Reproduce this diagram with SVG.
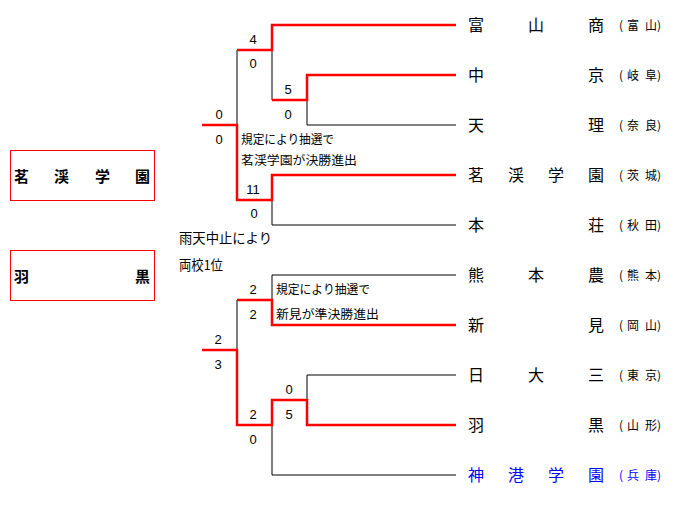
<svg xmlns="http://www.w3.org/2000/svg" width="683" height="511" viewBox="0 0 683 511">
<style>
.bk{fill:none;stroke:#000;stroke-width:1}
.rd{fill:none;stroke:#ff0000;stroke-width:2.5}
.team{font-family:"Noto Sans CJK JP","Noto Sans CJK SC",sans-serif;font-size:16px;fill:#000}
.pref{font-family:"Noto Sans CJK JP","Noto Sans CJK SC",sans-serif;font-size:12px;fill:#000}
.blue{fill:#0000ff}
.sc{font-family:"Liberation Sans",Arial,sans-serif;font-size:13px;fill:#000;text-anchor:middle}
.note{font-family:"Noto Sans CJK JP","Noto Sans CJK SC",sans-serif;font-size:12.5px;fill:#000}
.note2{font-family:"Noto Sans CJK JP","Noto Sans CJK SC",sans-serif;font-size:13.5px;fill:#000}
.box{fill:#fff;stroke:#ff0000;stroke-width:1}
.win{font-family:"Noto Sans CJK JP","Noto Sans CJK SC",sans-serif;font-size:15px;font-weight:bold;fill:#000}
</style>
<rect width="683" height="511" fill="#fff"/>
<g id="connectors">
  <path class="bk" d="M307 125H456M307 100V125"/>
  <path class="bk" d="M272 225H456M272 200V225"/>
  <path class="bk" d="M272 50V100"/>
  <path class="bk" d="M237 50V125"/>
  <path class="bk" d="M272 275H456M272 275V300"/>
  <path class="bk" d="M307 375H456M307 375V400"/>
  <path class="bk" d="M272 475H456M272 425V475"/>
  <path class="bk" d="M237 300V350"/>
  <path class="rd" d="M456 25H272V50H237"/>
  <path class="rd" d="M456 75H307V100H272"/>
  <path class="rd" d="M456 175H272V200H237V125H202"/>
  <path class="rd" d="M456 325H272V300H237"/>
  <path class="rd" d="M456 425H307V400H272V425H237V350H202"/>
</g>
<g id="scores">
  <text class="sc" x="253" y="43.5">4</text>
  <text class="sc" x="253" y="67.5">0</text>
  <text class="sc" x="288" y="93.5">5</text>
  <text class="sc" x="288" y="118.5">0</text>
  <text class="sc" x="219" y="118.5">0</text>
  <text class="sc" x="219" y="143.5">0</text>
  <text class="sc" x="253" y="193.5">11</text>
  <text class="sc" x="254" y="217.5">0</text>
  <text class="sc" x="253" y="293.5">2</text>
  <text class="sc" x="253" y="318.5">2</text>
  <text class="sc" x="218" y="343.5">2</text>
  <text class="sc" x="218" y="368.5">3</text>
  <text class="sc" x="289" y="393.5">0</text>
  <text class="sc" x="289" y="418.5">5</text>
  <text class="sc" x="253" y="418.5">2</text>
  <text class="sc" x="253" y="443.5">0</text>
</g>
<g id="notes">
  <text class="note" x="241" y="143.8" textLength="93" lengthAdjust="spacingAndGlyphs">規定により抽選で</text>
  <text class="note" x="241" y="164.8" textLength="116" lengthAdjust="spacingAndGlyphs">茗渓学園が決勝進出</text>
  <text class="note" x="276" y="293.8" textLength="94" lengthAdjust="spacingAndGlyphs">規定により抽選で</text>
  <text class="note" x="276" y="318.8" textLength="103" lengthAdjust="spacingAndGlyphs">新見が準決勝進出</text>
  <text class="note2" x="179" y="243.2" textLength="93" lengthAdjust="spacingAndGlyphs">雨天中止により</text>
  <text class="note2" x="179" y="270.2" textLength="44" lengthAdjust="spacingAndGlyphs">両校1位</text>
</g>
<g id="team-toyamasho"><text class="team" x="468 528 588" y="31">富山商</text><text class="pref" x="619 627 645 657" y="29.5">(富山)</text></g>
<g id="team-chukyo"><text class="team" x="468 588" y="81">中京</text><text class="pref" x="619 627 645 657" y="79.5">(岐阜)</text></g>
<g id="team-tenri"><text class="team" x="468 588" y="131">天理</text><text class="pref" x="619 627 645 657" y="129.5">(奈良)</text></g>
<g id="team-meikei"><text class="team" x="468 508 548 588" y="181">茗渓学園</text><text class="pref" x="619 627 645 657" y="179.5">(茨城)</text></g>
<g id="team-honjo"><text class="team" x="468 588" y="231">本荘</text><text class="pref" x="619 627 645 657" y="229.5">(秋田)</text></g>
<g id="team-kumamotono"><text class="team" x="468 528 588" y="281">熊本農</text><text class="pref" x="619 627 645 657" y="279.5">(熊本)</text></g>
<g id="team-niimi"><text class="team" x="468 588" y="331">新見</text><text class="pref" x="619 627 645 657" y="329.5">(岡山)</text></g>
<g id="team-nichidaisan"><text class="team" x="468 528 588" y="381">日大三</text><text class="pref" x="619 627 645 657" y="379.5">(東京)</text></g>
<g id="team-haguro"><text class="team" x="468 588" y="431">羽黒</text><text class="pref" x="619 627 645 657" y="429.5">(山形)</text></g>
<g id="team-shinko"><text class="team blue" x="468 508 548 588" y="481">神港学園</text><text class="pref blue" x="619 627 645 657" y="479.5">(兵庫)</text></g>
<g id="winner-meikei"><rect class="box" x="10.5" y="150.5" width="144" height="50"/><text class="win" x="14 54 95 135" y="181.5">茗渓学園</text></g>
<g id="winner-haguro"><rect class="box" x="10.5" y="250.5" width="144" height="50"/><text class="win" x="14 135" y="281.5">羽黒</text></g>
</svg>
